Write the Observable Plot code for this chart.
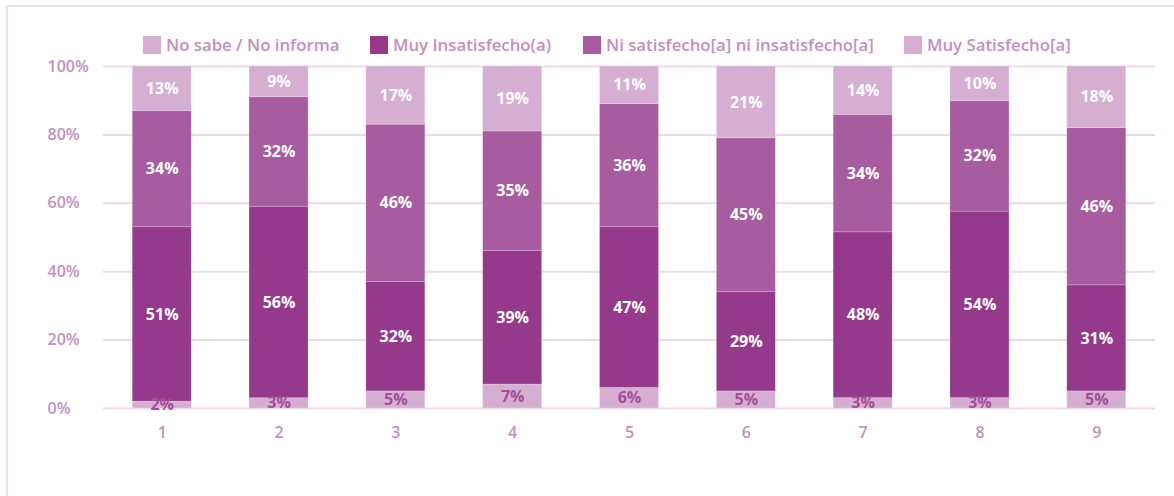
<!DOCTYPE html>
<html>
<head>
<meta charset="utf-8">
<script src="https://cdn.jsdelivr.net/npm/d3@7"></script>
<script src="https://cdn.jsdelivr.net/npm/@observablehq/plot@0.6"></script>
<style>
  html, body { margin: 0; padding: 0; background: #fff; }
  #wrap { position: relative; width: 1174px; height: 496px; overflow: hidden; font-family: "Open Sans", sans-serif; }
  #frame { position: absolute; left: 6px; top: 5px; right: -4px; bottom: -4px; border-left: 2px solid #f0e0f0; border-top: 2px solid #f0e0f0; }
  #chart { position: absolute; left: 0; top: 0; }
  .leg { position: absolute; top: 33px; display: flex; align-items: center; font-size: 16.8px; font-weight: 600; color: #c28fc3; white-space: nowrap; }
  .sw { width: 18px; height: 18px; margin-right: 5px; }
</style>
</head>
<body>
<div id="wrap">
  <div id="frame"></div>
  <div id="chart"></div>
</div>
<script>
const categories = ["1", "2", "3", "4", "5", "6", "7", "8", "9"];
const seriesNames = ["No sabe / No informa", "Muy Insatisfecho(a)", "Ni satisfecho[a] ni insatisfecho[a]", "Muy Satisfecho[a]"];
const seriesColors = ["#d6aed2", "#953a8a", "#a75c9f", "#d6aed2"];
const noSabe   = [2, 3, 5, 7, 6, 5, 3, 3, 5];
const muyInsat = [51, 56, 32, 39, 47, 29, 48, 54, 31];
const niNi     = [34, 32, 46, 35, 36, 45, 34, 32, 46];
const muySat   = [13, 9, 17, 19, 11, 21, 14, 10, 18];
const yTicks = [0, 0.2, 0.4, 0.6, 0.8, 1];
const legendX = [143, 370, 583, 904];

const seriesValues = [noSabe, muyInsat, niNi, muySat];
const data = [];
categories.forEach((c, i) => {
  seriesNames.forEach((s, j) => {
    data.push({cat: c, series: s, value: seriesValues[j][i]});
  });
});

const stackOpts = {x: "cat", y: "value", z: "series", order: seriesNames, offset: "normalize"};
const labelStyle = {text: d => d.value + "%", fontSize: 16, fontWeight: 700};

const plot = Plot.plot({
  width: 1174,
  height: 496,
  marginTop: 66,
  marginBottom: 88,
  marginLeft: 103,
  marginRight: 19,
  style: {fontFamily: "Open Sans, sans-serif", background: "transparent"},
  x: {domain: categories, paddingInner: 0.495, paddingOuter: 0.25, round: false, label: null},
  y: {domain: [0, 1], label: null},
  color: {domain: seriesNames, range: seriesColors},
  marks: [
    Plot.ruleY(yTicks, {stroke: "#edd9ee", strokeWidth: 2}),
    Plot.axisY({ticks: yTicks, tickFormat: d3.format(".0%"), tickSize: 0, tickPadding: 3, textAnchor: "start", dx: -53, fontSize: 16, fontWeight: 600, fill: "#c28fc3", label: null}),
    Plot.axisX({tickSize: 0, tickPadding: 18, fontSize: 16, fontWeight: 600, fill: "#c28fc3", label: null}),
    Plot.barY(data, Plot.stackY({...stackOpts, fill: "series", stroke: "#fff", strokeOpacity: 0.35, strokeWidth: 0.6})),
    Plot.text(data, Plot.filter(d => d.series !== seriesNames[0], Plot.stackY({...stackOpts, ...labelStyle, fill: "#fff"}))),
    Plot.text(data, Plot.filter(d => d.series === seriesNames[0], Plot.stackY({...stackOpts, ...labelStyle, fill: "#a24f9a"})))
  ]
});
document.getElementById("chart").appendChild(plot);

const wrap = document.getElementById("wrap");
seriesNames.forEach((s, i) => {
  const item = document.createElement("div");
  item.className = "leg";
  item.style.left = legendX[i] + "px";
  const sw = document.createElement("div");
  sw.className = "sw";
  sw.style.background = seriesColors[i];
  const tx = document.createElement("span");
  tx.textContent = s;
  item.appendChild(sw);
  item.appendChild(tx);
  wrap.appendChild(item);
});
</script>
</body>
</html>
